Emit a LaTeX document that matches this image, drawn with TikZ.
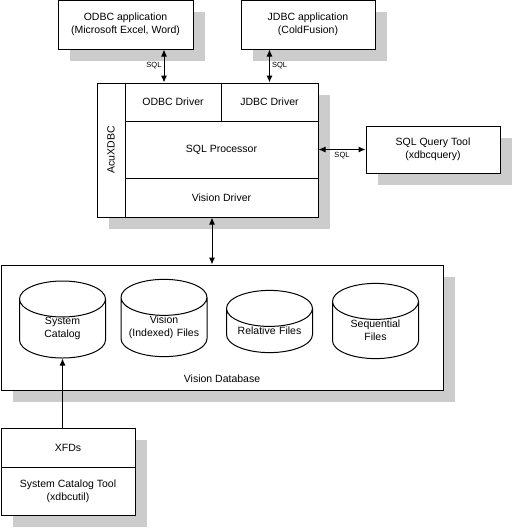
\documentclass[tikz,border=0pt]{standalone}
\usepackage{fontspec}
\setmainfont{Liberation Sans}
\usepackage{tikz}
\usetikzlibrary{arrows.meta}
\usetikzlibrary{shapes.geometric}
\usetikzlibrary{shadows}

\tikzset{
  shadowed/.style={fill=white, drop shadow={shadow xshift=12pt, shadow yshift=-12pt, fill=black!20, opacity=1}},
  cell/.style={draw, inner sep=0pt, align=center, font=\fontsize{10.5}{13}\selectfont},
  drum/.style={cell, cylinder, shape border rotate=90, text width=80pt, aspect=0.45, minimum width=86pt, minimum height=62pt, anchor=shape center},
  sqllabel/.style={font=\fontsize{7.5}{9}\selectfont, inner sep=2pt},
  biarrow/.style={{Latex[length=7pt,width=6pt]}-{Latex[length=7pt,width=6pt]}},
}

\begin{document}
\begin{tikzpicture}[x=1pt, y=-1pt, line width=1pt]

  \useasboundingbox (0,0) rectangle (513,528);

  % applications
  \draw (125.5,24.5) node[cell, shadowed, name=odbcapp, minimum width=135pt, minimum height=49pt] {ODBC application\\(Microsoft Excel, Word)};
  \draw (308,24.5) node[cell, shadowed, name=jdbcapp, minimum width=134pt, minimum height=49pt] {JDBC application\\(ColdFusion)};
  \draw (433,149.5) node[cell, shadowed, name=sqltool, minimum width=134pt, minimum height=47pt] {SQL Query Tool\\(xdbcquery)};

  % AcuXDBC
  \draw (207.5,150) node[cell, shadowed, name=acux, minimum width=221pt, minimum height=134pt] {};
  \draw (111,150) node[cell, name=acuside, minimum width=28pt, minimum height=134pt] {};
  \draw (acuside) node[rotate=90, font=\fontsize{10.5}{13}\selectfont] {AcuXDBC};
  \draw (173,102) node[cell, name=odbcdrv, minimum width=96pt, minimum height=38pt] {ODBC Driver};
  \draw (269.5,102) node[cell, name=jdbcdrv, minimum width=97pt, minimum height=38pt] {JDBC Driver};
  \draw (221.5,149.5) node[cell, name=sqlproc, minimum width=193pt, minimum height=57pt] {SQL Processor};
  \draw (221.5,197.5) node[cell, name=visdrv, minimum width=193pt, minimum height=39pt] {Vision Driver};

  % Vision database
  \draw (222,327.5) node[cell, shadowed, name=vdb, minimum width=442pt, minimum height=125pt] {};
  \draw (vdb.south) node[above=4pt, font=\fontsize{10.5}{13}\selectfont] {Vision Database};
  \draw (62.5,319.5) node[drum, name=syscat] {System\\Catalog};
  \draw (164,318) node[drum, name=visfiles] {Vision\\(Indexed) Files};
  \draw (269.5,321.5) node[drum, name=relfiles] {Relative Files};
  \draw (375.5,321) node[drum, name=seqfiles] {Sequential\\Files};

  % catalog tool
  \draw (68,471.5) node[cell, shadowed, name=xfdbox, minimum width=134pt, minimum height=87pt] {};
  \draw (68,447.5) node[cell, name=xfds, minimum width=134pt, minimum height=39pt] {XFDs};
  \draw (68,491) node[cell, name=cattool, minimum width=134pt, minimum height=48pt] {System Catalog Tool\\(xdbcutil)};

  \coordinate (odbcin) at ([xshift=-9pt]odbcdrv.north);
  \coordinate (visout) at ([xshift=-9.5pt]visdrv.south);

  \draw [biarrow] (odbcapp.south -| odbcin) -- node[midway, left, sqllabel] {SQL} (odbcin);
  \draw [biarrow] (jdbcapp.south -| jdbcdrv.north) -- node[midway, right, sqllabel] {SQL} (jdbcdrv.north);
  \draw [biarrow] (sqlproc.east) -- node[midway, below, sqllabel] {SQL} (sqltool.west);
  \draw [biarrow] (visout) -- (visout |- vdb.north);
  \draw [-{Latex[length=7pt,width=6pt]}] (xfds.north -| syscat.south) -- (syscat.south);

\end{tikzpicture}
\end{document}
